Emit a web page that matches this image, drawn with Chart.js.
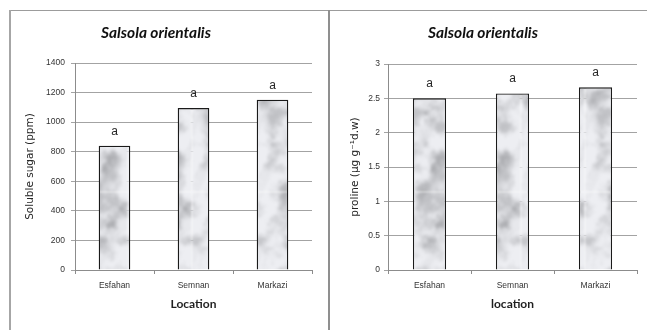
<!DOCTYPE html>
<html>
<head>
<meta charset="utf-8">
<script src="https://cdn.jsdelivr.net/npm/chart.js@4/dist/chart.umd.min.js"></script>
<style>
  html, body { margin: 0; padding: 0; background: #ffffff; }
  #page { position: relative; width: 647px; height: 330px; overflow: hidden; background: #fff; }
  .panel { position: absolute; top: 0; height: 330px; }
  .frame-top { position: absolute; left: 9px; top: 10px; width: 638px; height: 1px; background: #9c9c9c; }
  .frame-left { position: absolute; left: 9px; top: 10px; width: 2px; height: 320px; background: #a6a6a6; }
  .frame-mid { position: absolute; left: 328px; top: 10px; width: 2px; height: 320px; background: #8f8f8f; }
</style>
</head>
<body>
<div id="page">
  <div class="panel" style="left:0;width:329px"><canvas id="sugarChart" width="329" height="330"></canvas></div>
  <div class="panel" style="left:329px;width:318px"><canvas id="prolineChart" width="318" height="330"></canvas></div>
  <div class="frame-top"></div>
  <div class="frame-left"></div>
  <div class="frame-mid"></div>
</div>
<script>
// Sampling sites
const locations = ['Esfahan', 'Semnan', 'Markazi'];

// Soluble sugar content (ppm) and significance letters
const sugarValues = [840, 1095, 1152];
const sugarLetters = ['a', 'a', 'a'];
const sugarTicks = [0, 200, 400, 600, 800, 1000, 1200, 1400];

// Proline content (µg g-1 d.w) and significance letters
const prolineValues = [2.5, 2.57, 2.66];
const prolineLetters = ['a', 'a', 'a'];
const prolineTicks = [0, 0.5, 1, 1.5, 2, 2.5, 3];

// Soft grey marble texture for the bars (deterministic value noise)
function makeMarble() {
  const w = 64, h = 192;
  const raw = document.createElement('canvas');
  raw.width = w; raw.height = h;
  const rctx = raw.getContext('2d');
  const img = rctx.createImageData(w, h);
  const hash = (x, y) => {
    const s = Math.sin(x * 127.1 + y * 311.7) * 43758.5453;
    return s - Math.floor(s);
  };
  const smooth = t => t * t * (3 - 2 * t);
  const noise = (x, y, px, py) => {
    const x0 = Math.floor(x), y0 = Math.floor(y);
    const fx = smooth(x - x0), fy = smooth(y - y0);
    const g = (i, j) => hash(((i % px) + px) % px, ((j % py) + py) % py);
    const a = g(x0, y0), b = g(x0 + 1, y0), cc = g(x0, y0 + 1), d = g(x0 + 1, y0 + 1);
    return a + (b - a) * fx + (cc - a) * fy + (a - b - cc + d) * fx * fy;
  };
  const fbm = (x, y) => {
    let v = 0, amp = 0.5, f = 1;
    for (let o = 0; o < 4; o++) {
      v += amp * noise(x * f / 16, y * f / 16, 4 * f, 12 * f);
      amp *= 0.5; f *= 2;
    }
    return v;
  };
  const band = (a, b, t) => { const k = Math.min(1, Math.max(0, (t - a) / (b - a))); return k * k * (3 - 2 * k); };
  for (let y = 0; y < h; y++) {
    for (let x = 0; x < w; x++) {
      const v = fbm(x, y);
      const streak = 0.5 + 0.5 * Math.sin((x * 0.16 + y * 0.1) + v * 5);
      const dark = band(0.34, 0.75, v) * 0.7 + band(0.55, 1, streak) * 0.35 * v;
      let g = 240 - dark * 66;
      g = Math.max(165, Math.min(246, g));
      const i = (y * w + x) * 4;
      img.data[i] = g - 3; img.data[i + 1] = g - 2; img.data[i + 2] = g + 2; img.data[i + 3] = 255;
    }
  }
  rctx.putImageData(img, 0, 0);
  // slight softening, tiled copies keep the edges seamless
  const c = document.createElement('canvas');
  c.width = w; c.height = h;
  const ctx = c.getContext('2d');
  ctx.filter = 'blur(0.8px)';
  for (let dx = -1; dx <= 1; dx++) {
    for (let dy = -1; dy <= 1; dy++) ctx.drawImage(raw, dx * w, dy * h);
  }
  return c;
}
const marbleTile = makeMarble();

// Draws the significance letter above each bar
const letterPlugin = {
  id: 'letters',
  afterDatasetsDraw(chart, args, opts) {
    const ctx = chart.ctx;
    const meta = chart.getDatasetMeta(0);
    const yScale = chart.scales.y;
    const values = chart.data.datasets[0].data;
    ctx.save();
    ctx.font = '12px "Liberation Sans", Arial, sans-serif';
    ctx.fillStyle = '#262626';
    ctx.textAlign = 'center';
    ctx.textBaseline = 'middle';
    meta.data.forEach((bar, i) => {
      ctx.fillText(opts.letters[i], bar.x, yScale.getPixelForValue(values[i]) - opts.gap);
    });
    ctx.restore();
  }
};

function buildChart(id, cfg) {
  const canvas = document.getElementById(id);
  const pattern = canvas.getContext('2d').createPattern(marbleTile, 'repeat');
  return new Chart(canvas, {
    type: 'bar',
    data: {
      labels: locations,
      datasets: [{
        data: cfg.values,
        backgroundColor: pattern,
        borderColor: '#1a1a1a',
        borderWidth: 1.3,
        borderSkipped: 'bottom',
        categoryPercentage: 1,
        barPercentage: 0.4
      }]
    },
    options: {
      responsive: false,
      animation: false,
      events: [],
      layout: { padding: { left: 0, right: cfg.padRight, top: 0, bottom: 0 } },
      plugins: {
        legend: { display: false },
        tooltip: { enabled: false },
        title: {
          display: true,
          text: 'Salsola orientalis',
          color: '#111111',
          font: { family: 'Lato, "Open Sans", sans-serif', size: 15.5, weight: 'bold', style: 'italic', lineHeight: 1.2 },
          padding: { top: cfg.titleTop, bottom: cfg.plotTop - cfg.titleTop - 18.6 }
        },
        letters: { letters: cfg.letters, gap: cfg.letterGap }
      },
      scales: {
        x: {
          grid: { display: true, drawOnChartArea: false, drawTicks: true, tickLength: 4, offset: true, color: '#8c8c8c' },
          border: { display: true, color: '#8c8c8c', width: 1 },
          ticks: { color: '#333333', padding: 7, font: { family: '"Liberation Sans", Arial, sans-serif', size: 8.5 } },
          title: {
            display: true,
            text: cfg.xTitle,
            color: '#1f1f1f',
            font: { family: 'Lato, "Open Sans", sans-serif', size: 12, weight: 'bold' },
            padding: { top: 0, bottom: 18.8 }
          },
          afterFit(scale) { scale.height = 60; }
        },
        y: {
          min: cfg.ticks[0],
          max: cfg.ticks[cfg.ticks.length - 1],
          afterBuildTicks(scale) { scale.ticks = cfg.ticks.map(v => ({ value: v })); },
          grid: { color: '#a3a3a3', lineWidth: 1, tickLength: 4, drawTicks: true },
          border: { display: true, color: '#8c8c8c', width: 1 },
          ticks: {
            color: '#333333',
            padding: cfg.tickPad,
            font: { family: '"Liberation Sans", Arial, sans-serif', size: 8.5 },
            callback: v => String(v)
          },
          title: {
            display: true,
            text: cfg.yTitle,
            color: '#262626',
            font: { family: '"DejaVu Sans", Verdana, sans-serif', size: 10.5 },
            padding: { top: cfg.yTitleX - 6.3, bottom: 0 }
          },
          afterFit(scale) { scale.width = cfg.plotLeft; }
        }
      }
    },
    plugins: [letterPlugin]
  });
}

buildChart('sugarChart', {
  values: sugarValues,
  letters: sugarLetters,
  ticks: sugarTicks,
  xTitle: 'Location',
  yTitle: 'Soluble sugar (ppm)',
  plotLeft: 75,
  padRight: 17,
  plotTop: 63,
  titleTop: 24,
  tickPad: 6,
  yTitleX: 30,
  letterGap: 14
});

buildChart('prolineChart', {
  values: prolineValues,
  letters: prolineLetters,
  ticks: prolineTicks,
  xTitle: 'location',
  yTitle: 'proline (µg g\u207B\u00B9d.w)',
  plotLeft: 59,
  padRight: 10,
  plotTop: 64,
  titleTop: 24,
  tickPad: 4,
  yTitleX: 26,
  letterGap: 15
});
</script>
</body>
</html>
